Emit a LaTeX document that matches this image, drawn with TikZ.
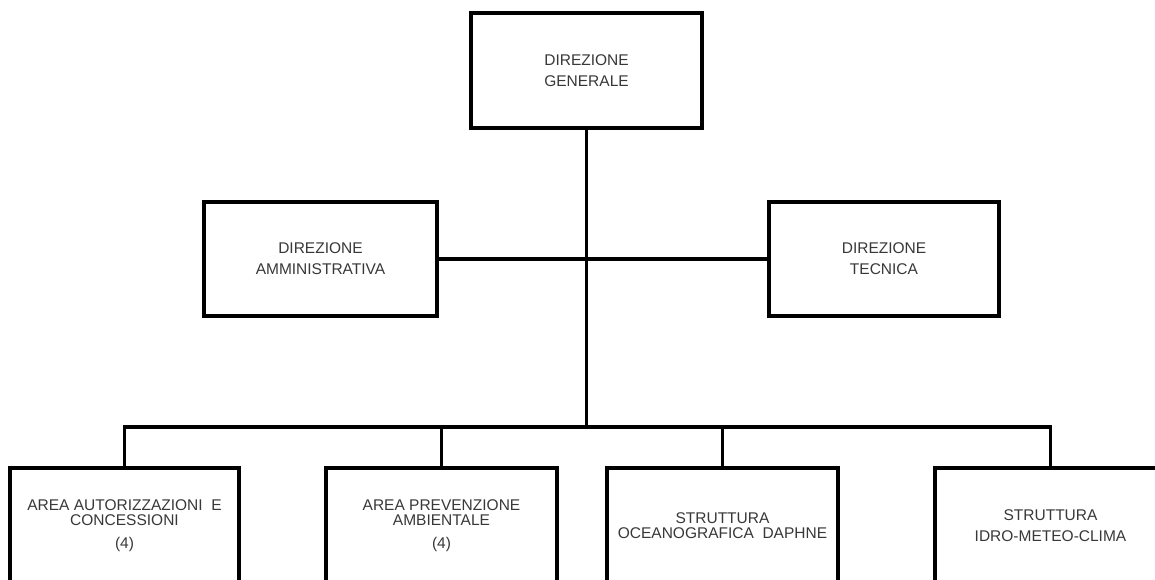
\documentclass[tikz,border=0pt]{standalone}
\usepackage{fontspec}
\setmainfont{Liberation Sans}
\usepackage{tikz}

\begin{document}
\begin{tikzpicture}[x=1pt,y=-1pt,
        box/.style={draw=black,line width=3.5pt,minimum width=231pt,minimum height=115pt,
            align=center,text=black!78,font=\fontsize{15.5}{21}\selectfont,inner sep=0pt},
        link/.style={line width=3.5pt}]
        \useasboundingbox (0,0) rectangle (1155,580);
        \clip (0,0) rectangle (1155,580);
        % Top of the chart
        \node[box] (dg) at (586.5,70.5) {DIREZIONE\\GENERALE};
        % Second level
        \node[box,minimum width=233pt,minimum height=114pt] (da) at (320.5,259) {DIREZIONE\\AMMINISTRATIVA};
        \node[box,minimum width=230pt,minimum height=114pt] (dt) at (884,259) {DIREZIONE\\TECNICA};
        % Bottom row, cut by the page edge
        \node[box,minimum width=229pt,minimum height=116pt] (aac) at (124.5,526) {AREA AUTORIZZAZIONI\ \ E\\[-6pt]CONCESSIONI\\[2pt](4)};
        \node[box,minimum width=231pt,minimum height=116pt] (apa) at (441.5,526) {AREA PREVENZIONE\\[-6pt]AMBIENTALE\\[2pt](4)};
        \node[box,minimum width=231pt,minimum height=116pt] (sod) at (722.5,526) {STRUTTURA\\[-6pt]OCEANOGRAFICA\ \ DAPHNE};
        \node[box,minimum width=231pt,minimum height=116pt] (sim) at (1050.5,526) {STRUTTURA\\IDRO-METEO-CLIMA};
        % Connectors
        \coordinate (bus) at (586.5,427);
        \draw[link] (dg.south) -- (bus);
        \draw[link] (da.east) -- (dt.west);
        \draw[link] (aac.north) |- (bus) -| (sim.north);
        \draw[link] (apa.north) -- (apa.north |- bus);
        \draw[link] (sod.north) -- (sod.north |- bus);
    \end{tikzpicture}
\end{document}
